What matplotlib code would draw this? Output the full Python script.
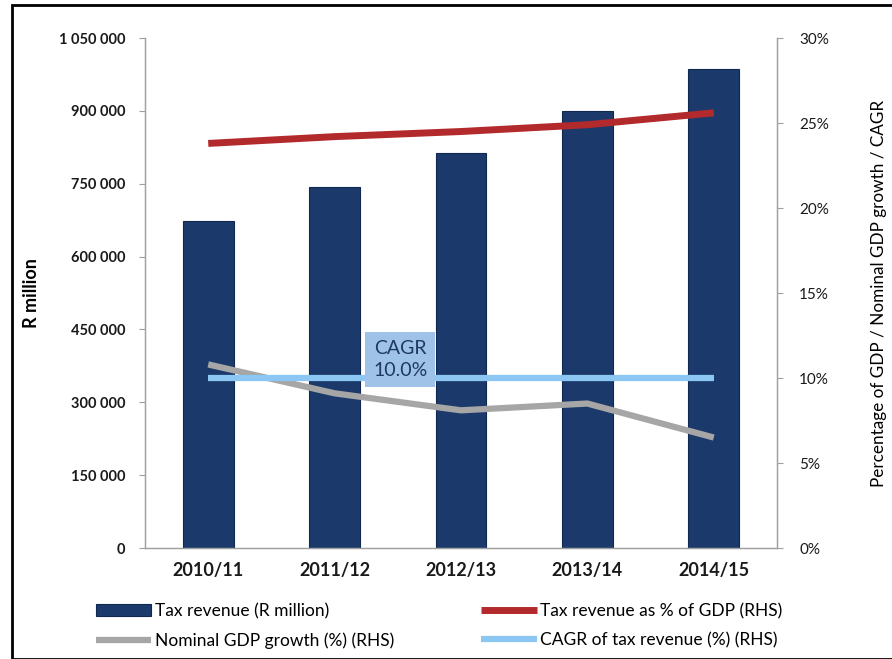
import matplotlib
matplotlib.use("Agg")
import matplotlib.pyplot as plt
from matplotlib.patches import Rectangle
from matplotlib.ticker import FuncFormatter

plt.rcParams['font.family'] = ['Lato', 'DejaVu Sans']

years = ['2010/11', '2011/12', '2012/13', '2013/14', '2014/15']
tax_revenue = [674200, 742700, 813800, 900000, 986300]
tax_pct_gdp = [23.8, 24.2, 24.5, 24.9, 25.6]
gdp_growth = [10.8, 9.1, 8.1, 8.5, 6.5]
cagr = [10.0, 10.0, 10.0, 10.0, 10.0]

navy = '#1b3a6b'
red = '#b32a2c'
grey = '#a6a6a6'
lightblue = '#8cc6f2'
axis_grey = '#a0a0a0'

fig = plt.figure(figsize=(8.92, 6.59), dpi=100)
ax = fig.add_axes([0.1626, 0.1684, 0.7084, 0.7739])
ax2 = ax.twinx()

x = list(range(len(years)))
bars = ax.bar(x, tax_revenue, width=0.4, color=navy, edgecolor='#10284f', linewidth=0.8, zorder=2)
ax.set_xlim(-0.5, 4.5)
ax.set_ylim(0, 1050000)
ax.set_yticks(range(0, 1050001, 150000))
ax.yaxis.set_major_formatter(FuncFormatter(lambda v, p: '0' if v == 0 else f'{int(v):,}'.replace(',', ' ')))
ax.set_xticks(x)
ax.set_xticklabels(years, fontsize=13, fontweight='bold', color='#1a1a1a')
ax.tick_params(axis='x', length=0, pad=10)
ax.tick_params(axis='y', labelsize=10.5, colors='#1a1a1a', length=4, color=axis_grey, pad=10)
for lbl in ax.get_yticklabels():
    lbl.set_fontweight('bold')
ax.set_ylabel('R million', fontsize=13, fontweight='bold', labelpad=14)

ax2.set_ylim(0, 30)
ax2.set_yticks(range(0, 31, 5))
ax2.yaxis.set_major_formatter(FuncFormatter(lambda v, p: f'{int(v)}%'))
ax2.tick_params(axis='y', labelsize=11, colors='#1a1a1a', length=4, color=axis_grey, pad=12)
ax2.set_ylabel('Percentage of GDP / Nominal GDP growth / CAGR', fontsize=12.3, labelpad=30)

l_red, = ax2.plot(x, tax_pct_gdp, color=red, linewidth=5, solid_capstyle='butt', zorder=3)
l_grey, = ax2.plot(x, gdp_growth, color=grey, linewidth=4.5, solid_capstyle='butt', zorder=3)
l_blue, = ax2.plot(x, cagr, color=lightblue, linewidth=4.5, solid_capstyle='butt', zorder=3)

ax2.text(1.52, 11.1, 'CAGR\n10.0%', ha='center', va='center', fontsize=14, color='#1f3864',
         linespacing=1.35, zorder=5,
         bbox=dict(boxstyle='square,pad=0.4', facecolor='#9fc3e8', edgecolor='none'))

for a in (ax, ax2):
    a.spines['top'].set_visible(False)
    for s in ('left', 'right', 'bottom'):
        a.spines[s].set_color(axis_grey)
        a.spines[s].set_linewidth(0.9)

fig.legend([bars, l_grey, l_red, l_blue],
           ['Tax revenue (R million)', 'Nominal GDP growth (%) (RHS)',
            'Tax revenue as % of GDP (RHS)', 'CAGR of tax revenue (%) (RHS)'],
           ncol=2, loc='lower left', bbox_to_anchor=(0.09, -0.008), frameon=False,
           fontsize=12.5, handlelength=3.2, handletextpad=0.2, columnspacing=5.0,
           labelspacing=0.75)

fig.patches.append(Rectangle((12 / 892, 0), 1, 1 - 5 / 659, transform=fig.transFigure,
                             fill=False, edgecolor='black', linewidth=2, zorder=10))

fig.savefig('out.png', dpi=100, facecolor='white')
